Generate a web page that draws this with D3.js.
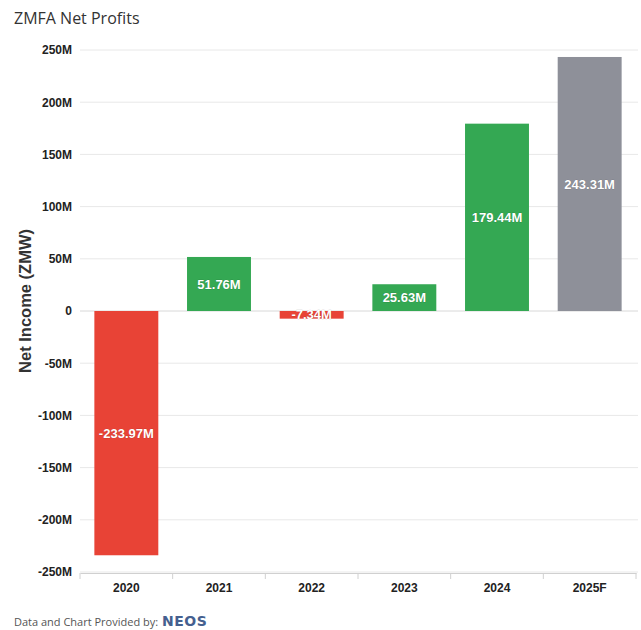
<!DOCTYPE html>
<html><head><meta charset="utf-8">
<script src="https://cdn.jsdelivr.net/npm/d3@7"></script>
<style>
body{margin:0;background:#fff;}
svg{display:block;}
</style></head>
<body>
<svg id="chart" width="641" height="630"></svg>
<script>
const categories = ["2020","2021","2022","2023","2024","2025F"];
const values = [-233.97, 51.76, -7.34, 25.63, 179.44, 243.31];
const labels = ["-233.97M","51.76M","-7.34M","25.63M","179.44M","243.31M"];
const yTicks = [250,200,150,100,50,0,-50,-100,-150,-200,-250];
const barColors = ["#e84336","#34a853","#e84336","#34a853","#34a853","#8e9099"];

const svg = d3.select("#chart");
const x = d3.scaleBand().domain(categories).range([80,636]).paddingInner(0.31).paddingOuter(0.155);
const y = d3.scaleLinear().domain([-250,250]).range([572,50]);

// gridlines
svg.append("g").selectAll("line").data(yTicks).join("line")
  .attr("x1",80).attr("x2",638)
  .attr("y1",d=>y(d)).attr("y2",d=>y(d))
  .attr("stroke",d=>d===0?"#d8d8d8":"#e8e8e8").attr("stroke-width",1);

// y axis labels
const yAxis = d3.axisLeft(y).tickValues(yTicks).tickSize(0).tickPadding(8)
  .tickFormat(d=> d===0 ? "0" : d+"M");
const gy = svg.append("g").attr("transform","translate(80,0)").call(yAxis);
gy.select(".domain").remove();
gy.selectAll("text").attr("font-family","Liberation Sans, Arial, sans-serif")
  .attr("font-weight","bold").attr("font-size",12).attr("fill","#222");

// bars
svg.append("g").selectAll("rect").data(values).join("rect")
  .attr("x",(d,i)=>x(categories[i]))
  .attr("width",x.bandwidth())
  .attr("y",d=>y(Math.max(0,d)))
  .attr("height",d=>Math.abs(y(d)-y(0)))
  .attr("fill",(d,i)=>barColors[i]);

// value labels
svg.append("g").selectAll("text").data(values).join("text")
  .attr("x",(d,i)=>x(categories[i])+x.bandwidth()/2)
  .attr("y",d=>(y(d)+y(0))/2)
  .attr("dy","0.35em")
  .attr("text-anchor","middle")
  .attr("font-family","Liberation Sans, Arial, sans-serif")
  .attr("font-weight","bold").attr("font-size",13)
  .attr("fill","#fff")
  .attr("stroke","rgba(0,0,0,0.25)").attr("stroke-width",0.6).attr("paint-order","stroke")
  .text((d,i)=>labels[i]);

// x axis
const xAxis = d3.axisBottom(x).tickSize(0).tickPadding(10);
const gx = svg.append("g").attr("transform","translate(0,573)").call(xAxis);
gx.select(".domain").attr("stroke","#d0d0d0");
gx.selectAll("text").attr("font-family","Liberation Sans, Arial, sans-serif")
  .attr("font-weight","bold").attr("font-size",12).attr("fill","#222");
// boundary ticks
const bounds = categories.map(c=>x(c)-x.step()*x.paddingInner()/2).concat([636]);
svg.append("g").selectAll("line").data(bounds).join("line")
  .attr("x1",d=>d).attr("x2",d=>d).attr("y1",573).attr("y2",579)
  .attr("stroke","#d0d0d0");

// y axis title
svg.append("text").attr("transform","translate(31,301) rotate(-90)")
  .attr("text-anchor","middle")
  .attr("font-family","Liberation Sans, Arial, sans-serif")
  .attr("font-weight","bold").attr("font-size",16.5).attr("fill","#333")
  .text("Net Income (ZMW)");

// title
svg.append("text").attr("x",14).attr("y",24)
  .attr("font-family","Open Sans, sans-serif").attr("font-size",16)
  .attr("fill","#333").text("ZMFA Net Profits");

// footer
svg.append("text").attr("x",14).attr("y",626)
  .attr("font-family","Open Sans, sans-serif").attr("font-size",11)
  .attr("fill","#555").text("Data and Chart Provided by:");
svg.append("text").attr("x",162).attr("y",626)
  .attr("font-family","DejaVu Sans, sans-serif").attr("font-size",14).attr("font-weight","bold")
  .attr("fill","#45608f").attr("letter-spacing","0.5").text("NEOS");
</script>
</body></html>
